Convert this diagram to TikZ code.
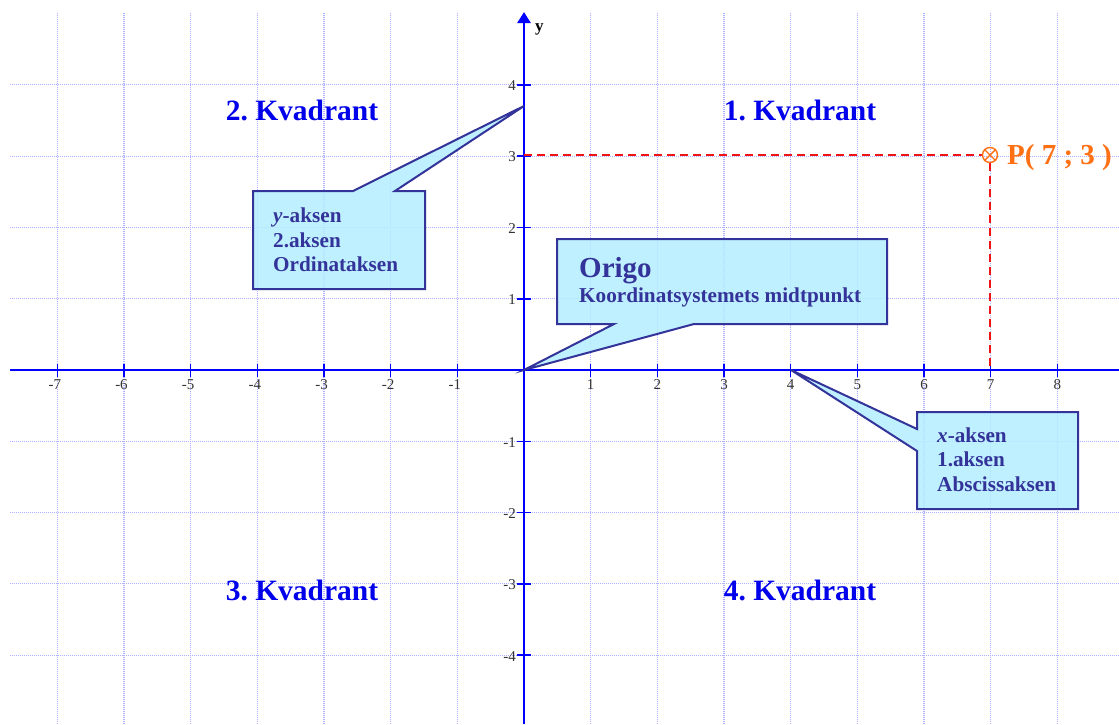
\documentclass[tikz,border=0pt]{standalone}
\usepackage{fontspec}
\setmainfont{Liberation Serif}
\usetikzlibrary{arrows.meta}
\frenchspacing
\definecolor{axisblue}{RGB}{0,0,255}
\definecolor{gridblue}{RGB}{175,175,255}
\definecolor{callborder}{RGB}{51,51,153}
\definecolor{callfill}{RGB}{180,238,255}
\definecolor{porange}{RGB}{255,112,20}
\definecolor{quadblue}{RGB}{0,0,235}
\definecolor{dashred}{RGB}{240,20,20}
\tikzset{
  gridline/.style={gridblue, line width=1.1pt, dash pattern=on 1pt off 1pt},
  axisline/.style={axisblue, line width=2.6pt},
  tickline/.style={axisblue, line width=1.6pt},
  ticklabel/.style={inner sep=0pt, text=black!80, font=\fontsize{15}{17}\selectfont},
  quadlabel/.style={anchor=base, inner sep=0pt, text=quadblue, font=\fontsize{29.5}{34}\selectfont\bfseries},
  callout/.style={draw=callborder, fill=callfill, fill opacity=0.85, line width=2pt, line join=miter},
  calltext/.style={anchor=base west, inner sep=0pt, text=callborder, font=\fontsize{21.2}{25}\selectfont\bfseries},
  guide/.style={dashred, line width=2pt, dash pattern=on 8pt off 5pt},
}
\begin{document}
\begin{tikzpicture}[x=1pt,y=-1pt]
\useasboundingbox (0,0) rectangle (1119,724);
\fill[white] (0,0) rectangle (1119,724);
% grid
\foreach \i in {-7,...,8} \draw[gridline] ({524+66.667*\i},13) -- ({524+66.667*\i},724);
\foreach \j in {-4,...,4} \draw[gridline] (10,{370-71.3*\j}) -- (1119,{370-71.3*\j});
% axes
\coordinate (O) at (524,370);
\coordinate (xstart) at (10,370);
\coordinate (xend) at (1119,370);
\coordinate (ybot) at (524,724);
\coordinate (ytop) at (524,12);
\draw[axisline] (xstart) -- (xend);
\draw[axisline, -{Triangle[width=13pt,length=11pt]}] (ybot) -- (ytop);
\node[anchor=base west, inner sep=0pt, font=\fontsize{17}{20}\selectfont\bfseries] (ylab) at (535,31) {y};
% ticks
\foreach \i in {-7,...,-1} {
  \draw[tickline] ({524+66.667*\i},364) -- ({524+66.667*\i},377);
  \pgfmathtruncatemacro\absi{-\i}
  \node[ticklabel, anchor=base] (xl\absi m) at ({524+66.667*\i},389) {\llap{-}\absi};
}
\foreach \i in {1,...,8} {
  \draw[tickline] ({524+66.667*\i},364) -- ({524+66.667*\i},377);
  \node[ticklabel, anchor=base] (xl\i) at ({524+66.667*\i},389) {\i};
}
\foreach \j in {1,...,4} {
  \draw[tickline] (517,{370-71.3*\j}) -- (531,{370-71.3*\j});
  \node[ticklabel, anchor=east] (yl\j) at (516,{371-71.3*\j}) {\j};
  \draw[tickline] (517,{370+71.3*\j}) -- (531,{370+71.3*\j});
  \node[ticklabel, anchor=east] (yl\j m) at (516,{371+71.3*\j}) {-\j};
}
% quadrant labels
\node[quadlabel] (q2) at (302,120) {2. Kvadrant};
\node[quadlabel] (q1) at (800,120) {1. Kvadrant};
\node[quadlabel] (q3) at (302,600) {3. Kvadrant};
\node[quadlabel] (q4) at (800,600) {4. Kvadrant};
% point P
\coordinate (P) at (990,155);
\coordinate (Px) at (524,155);
\coordinate (Pax) at (990,370);
\draw[guide] (Px) -- (982,155);
\draw[guide] (990,163) -- (Pax);
\node[porange, circle, draw, line width=1.4pt, minimum size=15pt, inner sep=0pt] (Pmark) at (P) {};
\draw[porange, line width=1.4pt] (Pmark.north west) -- (Pmark.south east) (Pmark.north east) -- (Pmark.south west);
\node[anchor=base west, inner sep=0pt, text=porange, font=\fontsize{29}{34}\selectfont\bfseries] (Plab) at (1007,164) {P( 7 ; 3 )};
% callout y-aksen
\coordinate (ytip) at (524,106);
\draw[callout] (253,191) -- (353,191) -- (ytip) -- (395,191) -- (425,191) -- (425,289) -- (253,289) -- cycle;
\node[calltext] (ya1) at (273,222) {\textit{y}-aksen};
\node[calltext] (ya2) at (273,247) {2.aksen};
\node[calltext] (ya3) at (273,271) {Ordinataksen};
% callout Origo
\draw[callout] (557,239) -- (887,239) -- (887,324) -- (694,324) -- (O) -- (614,324) -- (557,324) -- cycle;
\node[calltext, font=\fontsize{29}{34}\selectfont\bfseries] (or1) at (579,277) {Origo};
\node[calltext] (or2) at (579,302) {Koordinatsystemets midtpunkt};
% callout x-aksen
\coordinate (xtip) at (791,370);
\draw[callout] (917,412) -- (1078,412) -- (1078,509) -- (917,509) -- (917,451) -- (xtip) -- (917,429) -- cycle;
\node[calltext] (xa1) at (937,442) {\textit{x}-aksen};
\node[calltext] (xa2) at (937,466) {1.aksen};
\node[calltext] (xa3) at (937,491) {Abscissaksen};
\end{tikzpicture}
\end{document}
